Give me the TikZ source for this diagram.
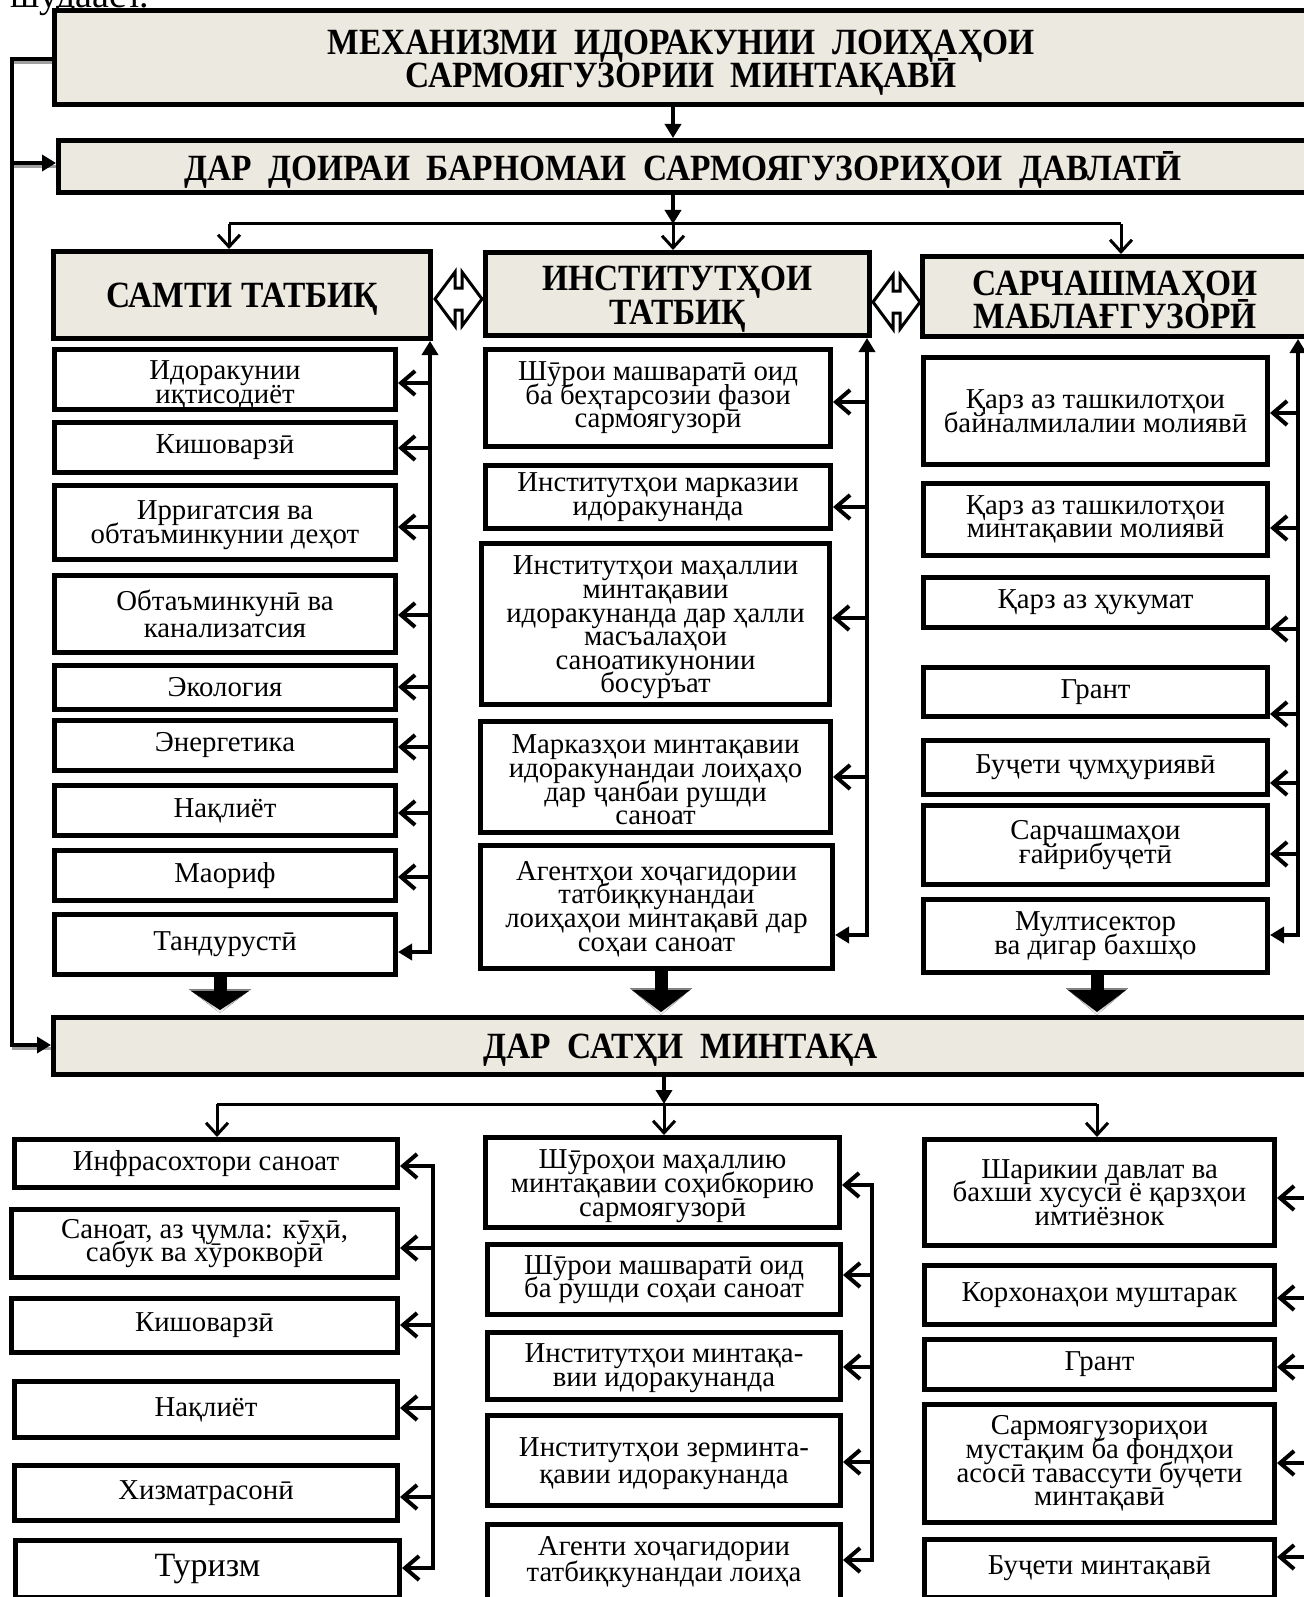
\documentclass[tikz,border=0pt]{standalone}
\usepackage{fontspec}
\setmainfont{Liberation Serif}
\newfontfamily\hdfont{Liberation Serif}[FakeStretch=0.905]
\usetikzlibrary{arrows.meta}
\definecolor{headfill}{RGB}{236,233,224}
\definecolor{shade}{RGB}{160,160,160}
\setlength{\lineskiplimit}{-60pt}
\newcommand\pad[1]{\rule{0pt}{#1pt}}
\tikzset{
 hbox/.style={draw=black,line width=5pt,fill=headfill,inner sep=0pt,align=center,
   font=\hdfont\bfseries\fontsize{37}{33.5}\selectfont},
 capc/.style={text height=24pt,text depth=0pt},
 wbox/.style={draw=black,line width=5pt,fill=white,inner sep=0pt,align=center,
   font=\fontsize{28.8}{23.6}\selectfont},
 loose/.style={font=\fontsize{28.8}{26.5}\selectfont},
 bigtext/.style={font=\fontsize{34}{34}\selectfont},
 busline/.style={line width=4.5pt,line cap=rect},
 barb/.style={line width=4pt,-{Straight Barb[length=14pt,width=24pt]}},
 endtip/.style={line width=4.5pt,-{Triangle[length=14pt,width=16pt]}},
 bothtip/.style={line width=4.5pt,{Triangle[length=14pt,width=16pt]}-{Triangle[length=14pt,width=16pt]}},
 distline/.style={line width=3pt},
 distbarb/.style={line width=3pt,-{Straight Barb[length=12pt,width=22pt]}},
 feedshadow/.style={line width=3.5pt,draw=shade},
 dblarrow/.style={line width=3pt,draw=black,fill=white,line join=miter},
}
\newcommand\mkbox[7]{\node[#1,minimum width={#5-#3-5},minimum height={#6-#4-5}] (#2) at ({(#3+#5)/2},{(#4+#6)/2}) {#7};}
\newcommand\blockarr[4]{%
 \fill[shade] ({#1-31},{#3-2}) -- ({#1+31},{#3-2}) -- (#1,{#4+3}) -- cycle;
 \fill[black] ({#1-6.5},#2) rectangle ({#1+6.5},{#3+1});
 \fill[black] ({#1-29},#3) -- ({#1+29},#3) -- (#1,#4) -- cycle;}
\newcommand\dblarr[3]{\draw[dblarrow] (#1,#3) -- ({#1+20},{#3-27}) -- ({#1+20},{#3-11}) -- ({#2-20},{#3-11}) -- ({#2-20},{#3-27}) -- (#2,#3) -- ({#2-20},{#3+27}) -- ({#2-20},{#3+11}) -- ({#1+20},{#3+11}) -- ({#1+20},{#3+27}) -- cycle;}

\begin{document}
\begin{tikzpicture}[x=1pt,y=-1pt]
\useasboundingbox (0,0) rectangle (1303,1597);

\node[anchor=base west,inner sep=0pt,font=\fontsize{38}{40}\selectfont] (prevtext) at (10,8) {шудааст.};

% header boxes
\mkbox{hbox}{top}{52}{8}{1310}{107}{\pad{35}МЕХАНИЗМИ\ \ ИДОРАКУНИИ\ \ ЛОИҲАҲОИ\\САРМОЯГУЗОРИИ\ \ МИНТАҚАВӢ}
\mkbox{hbox,capc,text height=29pt}{box2}{56}{138}{1310}{195}{ДАР\ \ ДОИРАИ\ \ БАРНОМАИ\ \ САРМОЯГУЗОРИҲОИ\ \ ДАВЛАТӢ}
\mkbox{hbox,capc}{lh}{51}{249}{433}{341}{САМТИ ТАТБИҚ}
\mkbox{hbox}{mh}{483}{250}{872}{338}{\pad{35}ИНСТИТУТҲОИ\\ТАТБИҚ}
\mkbox{hbox}{rh}{920}{254}{1310}{339}{\pad{31}САРЧАШМАҲОИ\\МАБЛАҒГУЗОРӢ}
\mkbox{hbox,capc}{sat}{51}{1015}{1310}{1077}{ДАР\ \ САТҲИ\ \ МИНТАҚА}

% left column
\mkbox{wbox}{l1}{52}{347}{398}{412}{\pad{29}Идоракунии\\иқтисодиёт}
\mkbox{wbox}{l2}{52}{420}{398}{475}{Кишоварзӣ}
\mkbox{wbox}{l3}{52}{483}{398}{562}{\pad{24}Ирригатсия ва\\обтаъминкунии деҳот}
\mkbox{wbox,loose}{l4}{52}{573}{398}{655}{Обтаъминкунӣ ва\\канализатсия}
\mkbox{wbox}{l5}{52}{663}{398}{712}{Экология}
\mkbox{wbox}{l6}{52}{718}{398}{773}{Энергетика}
\mkbox{wbox}{l7}{52}{783}{398}{838}{Нақлиёт}
\mkbox{wbox}{l8}{52}{848}{398}{903}{Маориф}
\mkbox{wbox}{l9}{52}{912}{398}{977}{Тандурустӣ}

% middle column
\mkbox{wbox}{m1}{483}{347}{833}{449}{Шӯрои машваратӣ оид\\ба беҳтарсозии фазои\\сармоягузорӣ}
\mkbox{wbox}{m2}{483}{463}{833}{531}{Институтҳои марказии\\идоракунанда}
\mkbox{wbox}{m3}{479}{541}{832}{707}{\pad{26}Институтҳои маҳаллии\\минтақавии\\идоракунанда дар ҳалли\\масъалаҳои\\саноатикунонии\\босуръат}
\mkbox{wbox}{m4}{478}{719}{833}{835}{\pad{25}Марказҳои минтақавии\\идоракунандаи лоиҳаҳо\\дар ҷанбаи рушди\\саноат}
\mkbox{wbox}{m5}{478}{843}{835}{971}{\pad{23}Агентҳои хоҷагидории\\татбиқкунандаи\\лоиҳаҳои минтақавӣ дар\\соҳаи саноат}

% right column
\mkbox{wbox}{r1}{921}{355}{1270}{467}{Қарз аз ташкилотҳои\\байналмилалии молиявӣ}
\mkbox{wbox}{r2}{921}{481}{1270}{558}{Қарз аз ташкилотҳои\\минтақавии молиявӣ}
\mkbox{wbox}{r3}{921}{575}{1270}{630}{Қарз аз ҳукумат}
\mkbox{wbox}{r4}{921}{665}{1270}{719}{Грант}
\mkbox{wbox}{r5}{921}{738}{1270}{797}{Буҷети ҷумҳуриявӣ}
\mkbox{wbox}{r6}{921}{803}{1270}{887}{Сарчашмаҳои\\ғайрибуҷетӣ}
\mkbox{wbox}{r7}{921}{897}{1270}{975}{Мултисектор\\ва дигар бахшҳо}

% bottom left
\mkbox{wbox}{bl1}{12}{1137}{400}{1190}{Инфрасохтори саноат}
\mkbox{wbox}{bl2}{9}{1207}{400}{1280}{Саноат, аз ҷумла: кӯҳӣ,\\сабук ва хӯрокворӣ}
\mkbox{wbox}{bl3}{9}{1296}{400}{1355}{Кишоварзӣ}
\mkbox{wbox}{bl4}{12}{1379}{400}{1440}{Нақлиёт}
\mkbox{wbox}{bl5}{12}{1463}{400}{1523}{Хизматрасонӣ}
\mkbox{wbox,bigtext}{bl6}{13}{1538}{402}{1600}{Туризм}

% bottom middle
\mkbox{wbox}{bm1}{483}{1135}{842}{1230}{\pad{26}Шӯроҳои маҳаллию\\минтақавии соҳибкорию\\сармоягузорӣ}
\mkbox{wbox}{bm2}{485}{1242}{843}{1317}{Шӯрои машваратӣ оид\\ба рушди соҳаи саноат}
\mkbox{wbox}{bm3}{485}{1330}{843}{1402}{\pad{23}Институтҳои минтақа-\\вии идоракунанда}
\mkbox{wbox,loose}{bm4}{485}{1413}{843}{1508}{\pad{25}Институтҳои зерминта-\\қавии идоракунанда}
\mkbox{wbox,loose}{bm5}{485}{1522}{843}{1602}{Агенти хоҷагидории\\татбиқкунандаи лоиҳа}

% bottom right
\mkbox{wbox}{br1}{922}{1137}{1277}{1248}{Шарикии давлат ва\\бахши хусусӣ ё қарзҳои\\имтиёзнок}
\mkbox{wbox}{br2}{922}{1263}{1277}{1327}{Корхонаҳои муштарак}
\mkbox{wbox}{br3}{922}{1337}{1277}{1392}{Грант}
\mkbox{wbox}{br4}{922}{1402}{1277}{1525}{Сармоягузориҳои\\мустақим ба фондҳои\\асосӣ тавассути буҷети\\минтақавӣ}
\mkbox{wbox}{br5}{922}{1537}{1277}{1600}{Буҷети минтақавӣ}

% feedback line on the left
\coordinate (fbA) at (12,59);
\coordinate (fbB) at (12,163);
\coordinate (fbC) at (12,1045);
\begin{scope}[transform canvas={yshift=-3.5pt}]
 \draw[feedshadow] (top.west |- fbA) -- (fbA) (fbB) -- (box2.west |- fbB) (fbC) -- (sat.west |- fbC);
\end{scope}
\draw[endtip] (top.west |- fbA) -- (fbA) |- (sat.west |- fbC);
\draw[endtip] (fbB) -- (box2.west |- fbB);

% top distribution
\coordinate (d0) at (673,120);
\coordinate (d1) at (673,224);
\coordinate (d1L) at (229,224);
\coordinate (d1R) at (1121,224);
\draw[endtip] (top.south -| d0) -- (box2.north -| d0);
\draw[endtip] (box2.south -| d1) -- (d1);
\draw[distline] (d1L) -- (d1R);
\draw[distbarb] (d1L) -- (lh.north -| d1L);
\draw[distbarb] (d1) -- (mh.north -| d1);
\draw[distbarb] (d1R) -- (rh.north -| d1R);

% double arrows between header boxes
\dblarr{435}{482}{299}
\dblarr{873}{920}{302}

% left bus
\coordinate (lbus) at (430,952);
\draw[bothtip] (l9.east |- lbus) -| (lh.south -| lbus);
\foreach \i/\y in {1/383,2/448,3/527,4/615,5/687,6/747,7/813,8/877}{
  \coordinate (la\i) at (430,\y);
  \draw[barb] (la\i) -- (l\i.east |- la\i);
}
% middle bus
\coordinate (mbus) at (867,935);
\draw[bothtip] (m5.east |- mbus) -| (mh.south -| mbus);
\foreach \i/\y in {1/402,2/507,3/618,4/777}{
  \coordinate (ma\i) at (867,\y);
  \draw[barb] (ma\i) -- (m\i.east |- ma\i);
}
% right bus
\coordinate (rbus) at (1298,935);
\draw[bothtip] (r7.east |- rbus) -| (rh.south -| rbus);
\foreach \i/\y in {1/413,2/528,3/629,4/714,5/783,6/854}{
  \coordinate (ra\i) at (1298,\y);
  \draw[barb] (ra\i) -- (r\i.east |- ra\i);
}

% block arrows down to the region level
\blockarr{220}{977}{991}{1010}
\blockarr{661}{971}{990}{1012}
\blockarr{1097}{975}{990}{1012}

% bottom distribution
\coordinate (d2) at (664,1104);
\coordinate (d2L) at (217,1104);
\coordinate (d2R) at (1097,1104);
\draw[endtip] (sat.south -| d2) -- (d2);
\draw[distline] (d2L) -- (d2R);
\draw[distbarb] (d2L) -- (bl1.north -| d2L);
\draw[distbarb] (d2) -- (bm1.north -| d2);
\draw[distbarb] (d2R) -- (br1.north -| d2R);

% bottom left bus
\coordinate (blT) at (433,1166);
\coordinate (blB) at (433,1568);
\draw[busline] (blT) -- (blB);
\foreach \i/\y in {1/1166,2/1248,3/1325,4/1408,5/1497,6/1568}{
  \coordinate (bla\i) at (433,\y);
  \draw[barb] (bla\i) -- (bl\i.east |- bla\i);
}
% bottom middle bus
\coordinate (bmT) at (872,1185);
\coordinate (bmB) at (872,1560);
\draw[busline] (bmT) -- (bmB);
\foreach \i/\y in {1/1185,2/1275,3/1367,4/1462,5/1560}{
  \coordinate (bma\i) at (872,\y);
  \draw[barb] (bma\i) -- (bm\i.east |- bma\i);
}
% bottom right arrows from the edge
\foreach \i/\y in {1/1198,2/1298,3/1367,4/1463,5/1557}{
  \coordinate (bra\i) at (1306,\y);
  \draw[barb] (bra\i) -- (br\i.east |- bra\i);
}
\end{tikzpicture}
\end{document}
